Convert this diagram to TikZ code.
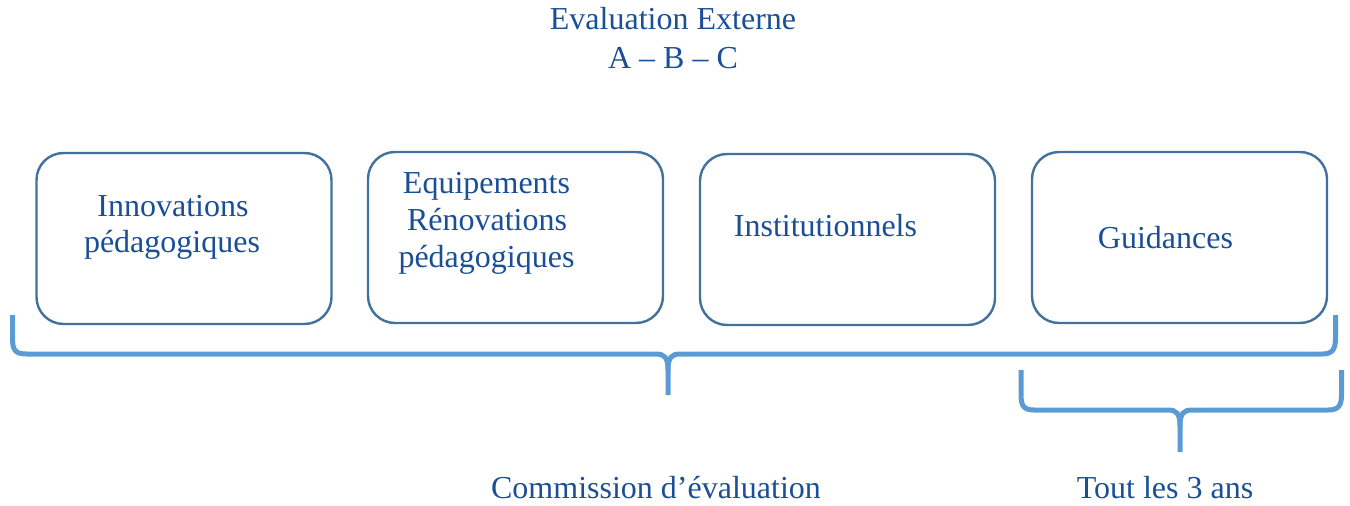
\documentclass[tikz,border=0pt]{standalone}
\usepackage{fontspec}
\setmainfont{Liberation Serif}
\definecolor{txtblue}{HTML}{1A4F96}
\definecolor{boxline}{HTML}{41719C}
\definecolor{bracec}{HTML}{5B9BD5}
\begin{document}
\begin{tikzpicture}[x=1pt,y=-1pt,
  box/.style={draw=boxline,line width=2.4pt,rounded corners=27pt,inner sep=0pt,fill=white},
  lbl/.style={text=txtblue,font=\fontsize{32}{37}\selectfont,anchor=base,inner sep=0pt},
  brace/.style={draw=bracec,line width=5pt}]
\useasboundingbox (0,0) rectangle (1350,506);
% boxes
\node[box,minimum width=295pt,minimum height=171pt] (b1) at (184,238.5) {};
\node[box,minimum width=295pt,minimum height=171pt] (b2) at (515.5,237.5) {};
\node[box,minimum width=295pt,minimum height=171pt] (b3) at (847.5,239.5) {};
\node[box,minimum width=295pt,minimum height=171pt] (b4) at (1179.5,237.5) {};
% titles
\node[lbl] (t1) at (673,29) {Evaluation Externe};
\node[lbl] (t2) at (673,68) {A -- B -- C};
% box texts
\node[lbl] (a1) at (173,216) {Innovations};
\node[lbl] (a2) at (172,252) {pédagogiques};
\node[lbl] (c1) at (486.5,193) {Equipements};
\node[lbl] (c2) at (487,230) {Rénovations};
\node[lbl] (c3) at (486.5,267) {pédagogiques};
\node[lbl] (d1) at (825.5,236) {Institutionnels};
\node[lbl] (e1) at (1165.5,248) {Guidances};
% bottom labels
\node[lbl] (f1) at (656,498) {Commission d’évaluation};
\node[lbl] (f2) at (1165,498) {Tout les 3 ans};
% big brace
\draw[brace] (12.5,315) -- (12.5,338) .. controls (12.5,350) and (15,354) .. (27,354)
  -- (656,354) .. controls (664,354) and (668,357) .. (668,370) -- (668,395);
\draw[brace] (668,370) .. controls (668,357) and (672,354) .. (680,354)
  -- (1322,354) .. controls (1332,354) and (1335.5,350) .. (1335.5,338) -- (1335.5,315);
% small brace
\draw[brace] (1021,370) -- (1021,395) .. controls (1021,406) and (1024,410) .. (1034,410)
  -- (1168,410) .. controls (1176,410) and (1180,413) .. (1180,426) -- (1180,452);
\draw[brace] (1180,426) .. controls (1180,413) and (1184,410) .. (1192,410)
  -- (1328,410) .. controls (1338,410) and (1341.5,406) .. (1341.5,395) -- (1341.5,370);
\end{tikzpicture}
\end{document}
